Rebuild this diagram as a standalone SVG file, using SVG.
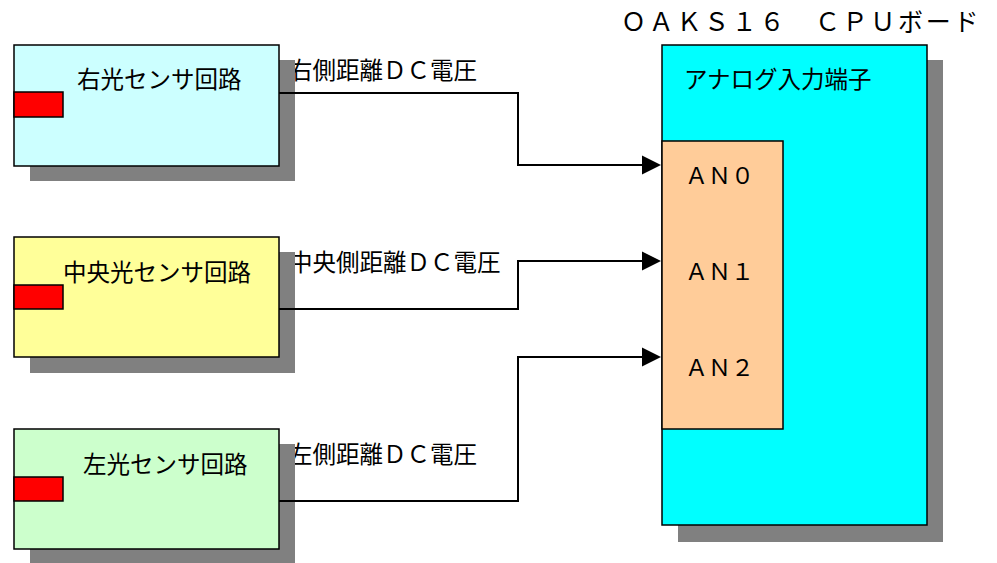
<svg xmlns="http://www.w3.org/2000/svg" width="997" height="563" viewBox="0 0 997 563">
<style>
text{font-family:"Noto Sans CJK JP","Noto Sans",sans-serif;fill:#000}
.t{font-size:23.5px}
.lbl{font-size:23.5px}
.an{font-size:23px}
.shadow{fill:#808080}
.box{stroke:#000;stroke-width:1.5}
.red{fill:#FF0000;stroke:#000;stroke-width:1.5}
.wire{fill:none;stroke:#000;stroke-width:2}
</style>
<rect width="997" height="563" fill="#fff"/>
<g id="labels">
<text class="lbl" x="289" y="79">右側距離ＤＣ電圧</text>
<text class="lbl" x="289" y="271">中央側距離ＤＣ電圧</text>
<text class="lbl" x="289" y="463">左側距離ＤＣ電圧</text>
</g>
<g id="right-sensor">
<rect class="shadow" x="30" y="60" width="265" height="121"/>
<rect class="box" x="14" y="45" width="265" height="121" fill="#CCFFFF"/>
<rect class="red" x="14" y="92" width="49" height="25"/>
<text class="t" x="77" y="88">右光センサ回路</text>
</g>
<g id="center-sensor">
<rect class="shadow" x="30" y="252" width="265" height="121"/>
<rect class="box" x="14" y="237" width="265" height="120" fill="#FFFF99"/>
<rect class="red" x="14" y="285" width="49" height="24"/>
<text class="t" x="63" y="281">中央光センサ回路</text>
</g>
<g id="left-sensor">
<rect class="shadow" x="30" y="444" width="265" height="119"/>
<rect class="box" x="14" y="429" width="265" height="120" fill="#CCFFCC"/>
<rect class="red" x="14" y="477" width="49" height="24"/>
<text class="t" x="83" y="473">左光センサ回路</text>
</g>
<g id="cpu-board">
<text x="621" y="31" font-size="25" letter-spacing="2.7">ＯＡＫＳ１６　ＣＰＵボード</text>
<rect class="shadow" x="678" y="60" width="265" height="482"/>
<rect class="box" x="662" y="45" width="265" height="480" fill="#00FFFF"/>
<text class="t" x="684" y="88">アナログ入力端子</text>
</g>
<g id="analog-ports">
<rect class="box" x="662" y="141" width="121" height="288" fill="#FFCC99"/>
<text class="an" x="685" y="184">ＡＮ０</text>
<text class="an" x="685" y="280">ＡＮ１</text>
<text class="an" x="685" y="376">ＡＮ２</text>
</g>
<g id="connectors">
<polyline class="wire" points="279,93 518,93 518,165 645,165"/>
<path d="M642,155.5 L661,165 L642,174.5 Z" fill="#000"/>
<polyline class="wire" points="279,309 518,309 518,261 645,261"/>
<path d="M642,251.5 L661,261 L642,270.5 Z" fill="#000"/>
<polyline class="wire" points="279,501 518,501 518,357 645,357"/>
<path d="M642,347.5 L661,357 L642,366.5 Z" fill="#000"/>
</g>
</svg>
